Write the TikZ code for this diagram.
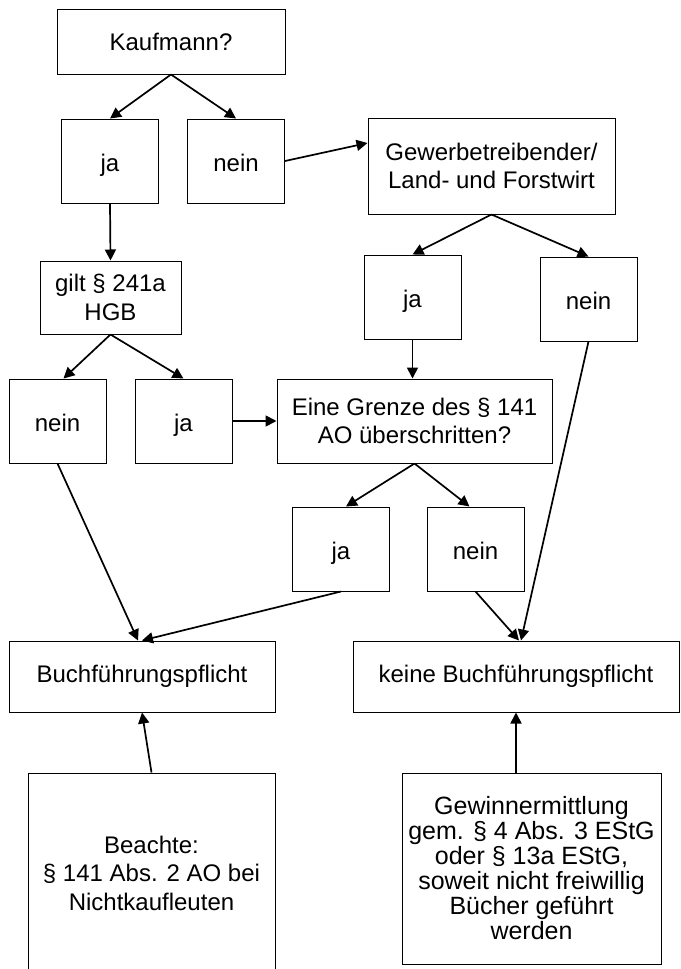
\documentclass[tikz,border=0pt]{standalone}
\usepackage{fontspec}
\setmainfont{Liberation Sans}
\usetikzlibrary{arrows.meta,calc}
\tikzset{box/.style={draw,line width=1pt,align=center,inner sep=2pt,font=\fontsize{24}{28.5}\selectfont},
  ans/.style={box,minimum width=97pt,minimum height=84pt,text height=21pt,text depth=1pt},
  arr/.style={-{Triangle[length=11pt,width=11pt]},line width=1.7pt}}

\begin{document}
\begin{tikzpicture}[x=1pt,y=-1pt]
\useasboundingbox (0,0) rectangle (680,969);
% first question
\node[box,minimum width=228pt,minimum height=65pt] (kfm) at (171,41.5) {Kaufmann?};
\node[ans] (ja1) at (110,161) {ja};
\node[ans] (nein1) at (236,161) {nein};
\node[box,minimum width=247pt,minimum height=96pt] (gew) at (491.5,166) {Gewerbetreibender/\\Land- und Forstwirt};
% second level
\node[box,minimum width=141pt,minimum height=73pt] (hgb) at (110.5,297.5) {gilt § 241a\\HGB};
\node[ans] (ja2) at (412.5,297) {ja};
\node[ans] (nein2) at (588.5,299) {nein};
\node[ans] (nein3) at (57.5,421) {nein};
\node[ans] (ja3) at (183.5,421) {ja};
\node[box,minimum width=275pt,minimum height=84pt] (ao) at (414.5,421) {Eine Grenze des § 141\\AO überschritten?};
\node[ans] (ja4) at (341,549) {ja};
\node[ans] (nein4) at (475.5,549) {nein};
% results
\node[box,minimum width=266pt,minimum height=71pt] (bf) at (142,676.5) {Buchführungspflicht};
\node[box,minimum width=326pt,minimum height=71pt] (kbf) at (516,676.5) {keine Buchführungspflicht};
\node[box,minimum width=247pt,minimum height=200pt] (note) at (151.5,873) {Beachte:\\§ 141 Abs. 2 AO bei\\Nichtkaufleuten};
\node[box,minimum width=259pt,minimum height=191pt,font=\fontsize{25}{25}\selectfont] (gew2) at (531.5,868.5)
  {Gewinnermittlung\\gem. § 4 Abs. 3 EStG\\oder § 13a EStG,\\soweit nicht freiwillig\\Bücher geführt\\werden};

\draw[arr] (kfm.south) -- (ja1.north);
\draw[arr] (kfm.south) -- (nein1.north);
\draw[arr] (ja1.south) -- (hgb.north);
\draw[arr] (nein1.east) -- ([yshift=23pt]gew.west);
\draw[arr] (gew.south) -- (ja2.north);
\draw[arr] (gew.south) -- (nein2.north);
\draw[arr] (hgb.south) -- ([xshift=6pt]nein3.north);
\draw[arr] (hgb.south) -- (ja3.north);
\draw[arr] (ja3.east) -- (ao.west);
\draw[arr] (ja2.south) -- (ja2.south |- ao.north);
\draw[arr] (ao.south) -- ([xshift=5pt]ja4.north);
\draw[arr] (ao.south) -- ([xshift=-6pt]nein4.north);
\draw[arr] (nein3.south) -- ([xshift=-4pt]bf.north);
\draw[arr] (ja4.south) -- (bf.north);
\draw[arr] (nein4.south) -- ([xshift=3pt]kbf.north);
\draw[arr] (nein2.south) -- ([xshift=5pt]kbf.north);
\draw[arr] (note.north) -- (bf.south);
\draw[arr] (gew2.north -| kbf.south) -- (kbf.south);
\end{tikzpicture}
\end{document}
